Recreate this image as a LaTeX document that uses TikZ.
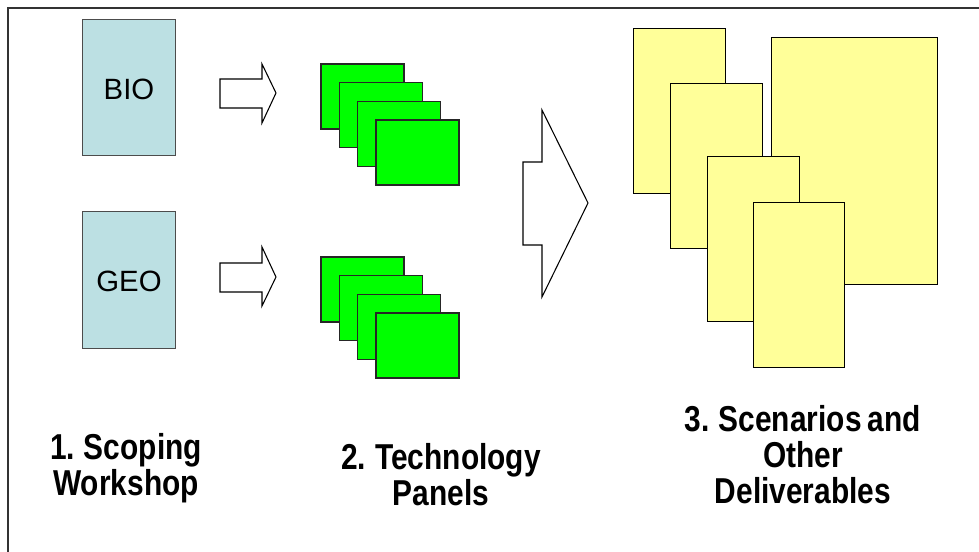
\documentclass[tikz,border=0pt]{standalone}
\usepackage{fontspec}
\setmainfont{Liberation Sans}
\newfontfamily\stagefont[FakeStretch=0.83,WordSpace=0.75]{Liberation Sans}
\definecolor{boxcyan}{RGB}{188,224,227}
\definecolor{panelgreen}{RGB}{0,255,0}
\definecolor{notepaper}{RGB}{255,255,153}
\newcommand{\stg}{\stagefont\bfseries\fontsize{27}{27}\selectfont}
\newcommand{\src}{\fontsize{22}{22}\selectfont}

\begin{document}
\begin{tikzpicture}[x=0.75pt,y=-0.75pt]
   \useasboundingbox (0,0) rectangle (979,552);
   \draw[line width=1.5pt,black!80] (8,552) -- (8,8) -- (979,8);
   % sources
   \filldraw[draw=black!70,fill=boxcyan] ( 82, 19) rectangle (175,155);
   \filldraw[draw=black!70,fill=boxcyan] ( 82,211) rectangle (175,348);
   \draw (129, 89) node (bio) {\src BIO};
   \draw (129,281) node (geo) {\src GEO};
   % small arrows
   \filldraw[draw=black,fill=white,line width=0.8pt]
    (220, 79) -- (262, 79) -- (262, 64) -- (276, 93) -- (262,123) -- (262,108) -- (220,108) -- cycle;
   \filldraw[draw=black,fill=white,line width=0.8pt]
    (220,263) -- (262,263) -- (262,247) -- (276,277) -- (262,306) -- (262,292) -- (220,292) -- cycle;
   % panels
   \foreach \i in {0,...,3} {
     \filldraw[draw=black!85,fill=panelgreen,line width=1pt]
      (321+18.33*\i, 64+18.67*\i) rectangle (404+18.33*\i,129+18.67*\i);
     \filldraw[draw=black!85,fill=panelgreen,line width=1pt]
      (321+18.33*\i,257+18.67*\i) rectangle (404+18.33*\i,322+18.67*\i);
   }
   % big arrow
   \filldraw[draw=black,fill=white,line width=0.8pt]
    (523,162) -- (542,162) -- (542,110) -- (588,203) -- (542,297) -- (542,245) -- (523,245) -- cycle;
   % deliverables
   \filldraw[draw=black,fill=notepaper] (633, 28) rectangle (725,193);
   \filldraw[draw=black,fill=notepaper] (771, 37) rectangle (937,284);
   \filldraw[draw=black,fill=notepaper] (670, 83) rectangle (762,248);
   \filldraw[draw=black,fill=notepaper] (707,156) rectangle (799,321);
   \filldraw[draw=black,fill=notepaper] (753,202) rectangle (844,367);
   % stage labels
   \draw (126,433) node[anchor=north,align=center,inner sep=0pt,font=\stg] (scope) {1. Scoping\\ Workshop};
   \draw (441,443) node[anchor=north,align=center,inner sep=0pt,font=\stg] (panels) {2. Technology\\ Panels};
   \draw (803,405) node[anchor=north,align=center,inner sep=0pt,font=\stg] (deliv) {3. Scenarios and\\ Other\\ Deliverables};
\end{tikzpicture}
\end{document}
